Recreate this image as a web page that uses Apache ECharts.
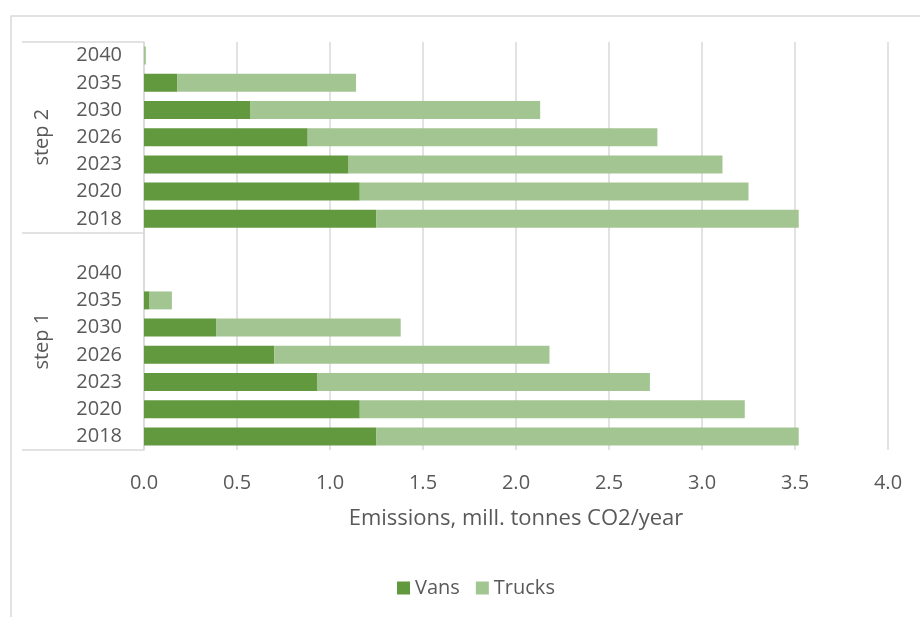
<!DOCTYPE html>
<html>
<head>
<meta charset="utf-8">
<script src="https://cdn.jsdelivr.net/npm/echarts@6/dist/echarts.min.js"></script>
<style>
  html, body { margin: 0; padding: 0; background: #ffffff; }
  #chart { width: 920px; height: 617px; }
</style>
</head>
<body>
<div id="chart"></div>
<script>
// ---- data ----
const years = ['2018', '2020', '2023', '2026', '2030', '2035', '2040'];
const groups = ['step 1', 'step 2'];
const vansStep1   = [1.25, 1.16, 0.93, 0.70, 0.39, 0.03, 0];
const trucksStep1 = [2.27, 2.07, 1.79, 1.48, 0.99, 0.12, 0];
const vansStep2   = [1.25, 1.16, 1.10, 0.88, 0.57, 0.18, 0];
const trucksStep2 = [2.27, 2.09, 2.01, 1.88, 1.56, 0.96, 0.01];
const xTicks = [0, 0.5, 1, 1.5, 2, 2.5, 3, 3.5, 4];
const seriesNames = ['Vans', 'Trucks'];
const axisTitle = 'Emissions, mill. tonnes CO2/year';

// ---- build category layout (step 1 has one empty row on top) ----
const categories = years.concat(['']).concat(years);
const vansData = vansStep1.concat([null]).concat(vansStep2);
const trucksData = trucksStep1.concat([null]).concat(trucksStep2);
const g1Size = years.length + 1;
const g2Size = years.length;
const total = g1Size + g2Size;
const groupBounds = [0, g1Size, total];
const groupCenters = [g1Size / 2, g1Size + g2Size / 2];

const FONT = '"Open Sans", sans-serif';
const TXT = '#595959';
const GRID = '#d9d9d9';

const chart = echarts.init(document.getElementById('chart'), null, { renderer: 'canvas' });
chart.setOption({
  animation: false,
  backgroundColor: '#ffffff',
  textStyle: { fontFamily: FONT },
  graphic: [{
    type: 'rect', left: 8.5, top: 13.5, silent: true,
    shape: { x: 0, y: 0, width: 1000, height: 1000 },
    style: { fill: 'none', stroke: GRID, lineWidth: 1.5 }
  }],
  grid: { left: 144, right: 32, top: 42, bottom: 167, containLabel: false },
  legend: {
    data: seriesNames,
    left: 392, top: 573,
    itemWidth: 13, itemHeight: 13, itemGap: 16,
    icon: 'rect',
    textStyle: { fontFamily: FONT, fontSize: 20, color: TXT }
  },
  xAxis: {
    type: 'value', min: xTicks[0], max: xTicks[xTicks.length - 1], interval: 0.5,
    axisLine: { show: false }, axisTick: { show: false },
    splitLine: { show: true, lineStyle: { color: GRID, width: 1.5 } },
    axisLabel: { fontFamily: FONT, fontSize: 20, color: TXT, margin: 23,
      formatter: v => v.toFixed(1) },
    name: axisTitle, nameLocation: 'middle', nameGap: 58,
    nameTextStyle: { fontFamily: FONT, fontSize: 22, color: TXT }
  },
  yAxis: [{
    type: 'category', data: categories, position: 'left',
    axisLine: { show: true, lineStyle: { color: GRID, width: 1.5 } },
    axisTick: { show: false },
    axisLabel: { fontFamily: FONT, fontSize: 20, color: TXT, margin: 22, interval: 0 }
  }, {
    type: 'value', min: 0, max: total, position: 'left', offset: 0,
    axisLine: { show: false },
    splitLine: { show: false },
    axisTick: { show: true, length: 122, customValues: groupBounds,
      lineStyle: { color: GRID, width: 1.5 } },
    axisLabel: { show: true, customValues: groupCenters, rotate: 90, margin: 92,
      fontFamily: FONT, fontSize: 20, color: TXT,
      formatter: v => (v < g1Size ? groups[0] : groups[1]) }
  }],
  series: [{
    name: seriesNames[0], type: 'bar', stack: 'total', yAxisIndex: 0,
    data: vansData, barWidth: '66%',
    itemStyle: { color: '#62983e' }
  }, {
    name: seriesNames[1], type: 'bar', stack: 'total', yAxisIndex: 0,
    data: trucksData, barWidth: '66%',
    itemStyle: { color: '#a3c591' }
  }]
});
</script>
</body>
</html>
